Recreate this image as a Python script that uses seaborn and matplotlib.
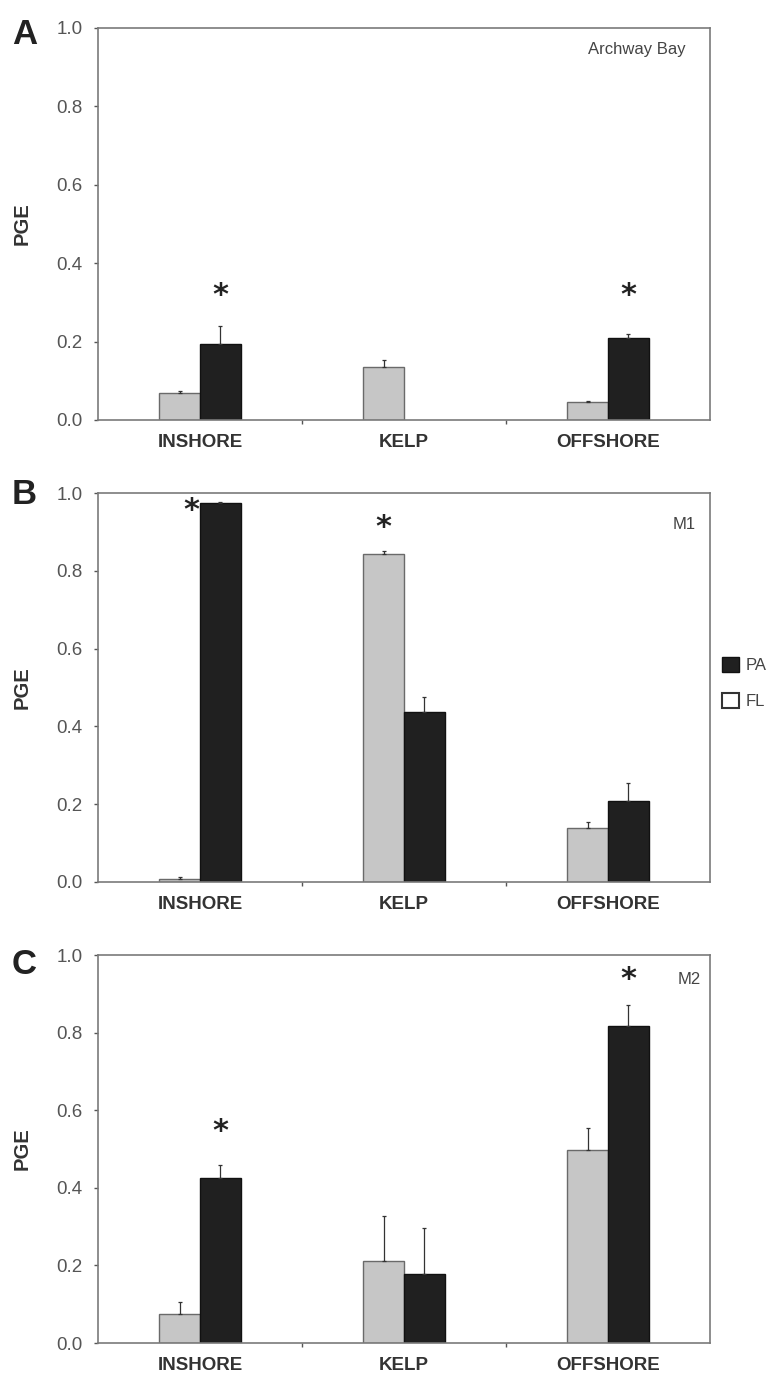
import numpy as np
import pandas as pd
import matplotlib
matplotlib.use('Agg')
import matplotlib.pyplot as plt
from matplotlib.patches import Patch
from matplotlib.ticker import FixedLocator
import seaborn as sns

# values (proportion of grazing events)
sites = ['INSHORE', 'KELP', 'OFFSHORE']
treatments = ['FL', 'PA']

archway_fl = [0.069, 0.136, 0.045]
archway_fl_se = [0.004, 0.017, 0.004]
archway_pa = [0.194, 0.0, 0.210]
archway_pa_se = [0.047, np.nan, 0.010]

m1_fl = [0.007, 0.844, 0.140]
m1_fl_se = [0.006, 0.008, 0.015]
m1_pa = [0.975, 0.438, 0.209]
m1_pa_se = [0.002, 0.037, 0.045]

m2_fl = [0.075, 0.212, 0.497]
m2_fl_se = [0.030, 0.116, 0.056]
m2_pa = [0.426, 0.178, 0.817]
m2_pa_se = [0.032, 0.118, 0.054]

panel_letters = ['A', 'B', 'C']
panel_names = ['Archway Bay', 'M1', 'M2']
# asterisks: (site index, x offset from site centre, y)
stars = [
    [(0, 0.1, 0.318), (2, 0.1, 0.318)],
    [(0, -0.04, 0.956), (1, -0.1, 0.911)],
    [(0, 0.1, 0.544), (2, 0.1, 0.938)],
]

colors = {'FL': '#c6c6c6', 'PA': '#202020'}
edges = {'FL': '#6a6a6a', 'PA': '#111111'}

sns.set_style('white')
plt.rcParams['font.family'] = ['Liberation Sans', 'DejaVu Sans']

fig = plt.figure(figsize=(7.71, 13.79), dpi=100)
W, H = 771, 1379
boxes = [(28, 420), (493, 882), (955, 1343)]
left, right = 98, 710

panels = [
    (archway_fl, archway_fl_se, archway_pa, archway_pa_se),
    (m1_fl, m1_fl_se, m1_pa, m1_pa_se),
    (m2_fl, m2_fl_se, m2_pa, m2_pa_se),
]
name_pos = [(0.96, 0.946), (0.977, 0.918), (0.985, 0.938)]
letter_top = [18, 478, 948]

for i, (fl, fl_se, pa, pa_se) in enumerate(panels):
    top, bot = boxes[i]
    ax = fig.add_axes([left / W, 1 - bot / H, (right - left) / W, (bot - top) / H])
    df = pd.DataFrame({
        'site': sites * 2,
        'treat': ['FL'] * 3 + ['PA'] * 3,
        'pge': fl + pa,
    })
    sns.barplot(data=df, x='site', y='pge', hue='treat', order=sites,
                hue_order=treatments, palette=colors, width=0.4,
                errorbar=None, legend=False, linewidth=1.0, ax=ax)
    ses = {'FL': fl_se, 'PA': pa_se}
    vals = {'FL': fl, 'PA': pa}
    for t, cont in zip(treatments, ax.containers):
        for j, bar in enumerate(cont):
            bar.set_edgecolor(edges[t])
            if vals[t][j] == 0:
                bar.set_visible(False)
            se = ses[t][j]
            if np.isnan(se):
                continue
            xc = bar.get_x() + bar.get_width() / 2
            ax.errorbar(xc, bar.get_height(), yerr=[[0], [se]], fmt='none',
                        ecolor='#333333', elinewidth=0.9, capsize=1.5,
                        capthick=0.9, zorder=1)

    for s, dx, y in stars[i]:
        ax.text(s + dx, y, '*', ha='center', va='center', fontsize=22,
                fontweight='bold', color='#222222', family='DejaVu Sans')

    ax.set_ylim(0, 1.0)
    ax.set_xlim(-0.5, 2.5)
    ax.set_yticks([0.0, 0.2, 0.4, 0.6, 0.8, 1.0])
    ax.set_yticklabels(['0.0', '0.2', '0.4', '0.6', '0.8', '1.0'])
    ax.xaxis.set_minor_locator(FixedLocator([0.5, 1.5]))
    ax.tick_params(axis='x', which='major', length=0, pad=10, labelsize=13.5,
                   labelcolor='#333333')
    ax.tick_params(axis='x', which='minor', length=3, width=1, color='#555555',
                   direction='out', bottom=True)
    ax.tick_params(axis='y', length=3, width=1, color='#555555', direction='out',
                   left=True, pad=8, labelsize=13.5, labelcolor='#555555')
    for lab in ax.get_xticklabels():
        lab.set_fontweight('bold')
    for sp in ax.spines.values():
        sp.set_color('#7a7a7a')
        sp.set_linewidth(1.2)
    ax.set_xlabel('')
    ax.set_ylabel('PGE', fontsize=14.5, fontweight='bold', color='#333333')
    ax.yaxis.set_label_coords(-0.108, 0.5)
    ax.text(name_pos[i][0], name_pos[i][1], panel_names[i], transform=ax.transAxes,
            ha='right', va='center', fontsize=12, color='#444444')
    fig.text(12 / W, 1 - letter_top[i] / H, panel_letters[i], ha='left', va='top',
             fontsize=25, fontweight='bold', color='#222222')

handles = [Patch(facecolor=colors['PA'], edgecolor=edges['PA'], label='PA'),
           Patch(facecolor='white', edgecolor='#333333', linewidth=1.5, label='FL')]
fig.legend(handles=handles, loc='upper left', bbox_to_anchor=(722 / W, 1 - 657 / H),
           frameon=False, fontsize=12, handlelength=1.0, handleheight=1.0,
           handletextpad=0.4, labelspacing=1.2, borderpad=0, borderaxespad=0,
           labelcolor='#444444')

fig.savefig('out.png', dpi=100)
